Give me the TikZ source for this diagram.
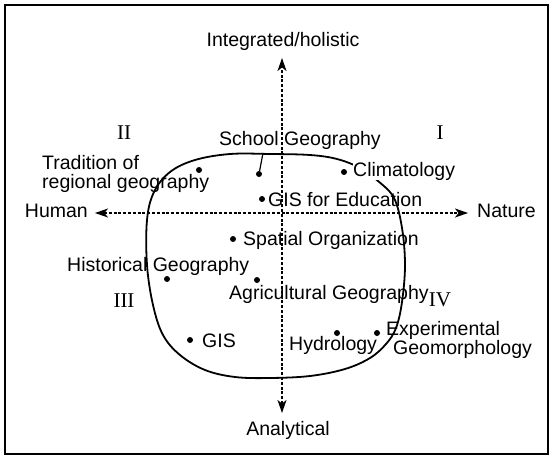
\documentclass[tikz,border=0pt]{standalone}
\usepackage{fontspec}
\setmainfont{Liberation Sans}
\newfontfamily\numfont{Liberation Serif}
\usetikzlibrary{arrows.meta}
\begin{document}
\begin{tikzpicture}[x=1pt,y=-1pt,
  lbl/.style={font=\fontsize{19.5}{17.5}\selectfont, inner sep=0pt, anchor=base west},
  clbl/.style={font=\fontsize{19.5}{17.5}\selectfont, inner sep=0pt, anchor=base},
  num/.style={font=\numfont\fontsize{21}{21}\selectfont, inner sep=0pt},
  dot/.style={circle, fill=black, inner sep=0pt, minimum size=6pt},
  tip/.tip={Stealth[length=13pt,width=9pt,inset=3.5pt]},
  axisline/.style={line width=1.3pt, dash pattern=on 3pt off 1.8pt, tip-tip},
  region/.style={line width=1.8pt},
  leader/.style={line width=1.2pt},
  frame/.style={line width=1.8pt}]
\useasboundingbox (0,0) rectangle (553,457);
\draw[frame] (5,5) rectangle (548,454);

% closed region
\draw[region] plot[smooth cycle, tension=0.6] coordinates {
 (230,154) (270,154) (310,155) (337,159) (360,168) (378,181) (394,198)
 (402,228) (405,265) (402,302) (396,328) (386,344) (370,358) (345,369)
 (310,376) (270,378) (235,377) (205,370) (180,355) (163,335) (153,305)
 (147,265) (147,220) (154,192) (170,172) (195,160)};

% axes
\coordinate (vtop) at (282,58);
\coordinate (vbot) at (282,413);
\coordinate (hleft) at (95,213);
\coordinate (hright) at (468,213);
\draw[axisline] (vbot) -- (vtop);
\draw[axisline] (hleft) -- (hright);

% axis labels
\node[clbl] (integ) at (283,47) {Integrated/holistic};
\node[clbl] (analyt) at (288,435) {Analytical};
\node[font=\fontsize{19.5}{17.5}\selectfont, inner sep=0pt, anchor=base east] (human) at (88,217) {Human};
\node[lbl] (nature) at (477,217) {Nature};

% quadrant numbers
\node[num] (q1) at (440,133) {I};
\node[num] (q2) at (124,133) {II};
\node[num] (q3) at (124,301) {III};
\node[num] (q4) at (440,300) {IV};

% dots
\node[dot] (dtrad) at (199,170) {};
\node[dot] (dschool) at (259,174) {};
\node[dot] (dclim) at (344,172) {};
\node[dot] (dgised) at (262,199) {};
\node[dot] (dspat) at (233,239) {};
\node[dot] (dhist) at (167,279) {};
\node[dot] (dagri) at (257,280) {};
\node[dot] (dgis) at (190,340) {};
\node[dot] (dhydro) at (337,333) {};
\node[dot] (dexp) at (377,333) {};

% labels
\node[lbl] (school) at (219,146) {School Geography};
\coordinate (schoolend) at (263,153);
\draw[leader] (dschool) -- (schoolend);
\node[lbl] (trad1) at (42,169) {Tradition of};
\node[lbl] (trad2) at (42,188) {regional geography};
\node[lbl, fill=white] (clim) at (353,176) {Climatology};
\node[lbl] (gised) at (268,206) {GIS for Education};
\node[lbl] (spat) at (243,245) {Spatial Organization};
\node[lbl] (hist) at (67,271) {Historical Geography};
\node[lbl] (agri) at (229,299) {Agricultural Geography};
\node[lbl] (gis) at (202,347) {GIS};
\node[lbl] (hydro) at (289,350) {Hydrology};
\node[lbl] (exp1) at (386,335) {Experimental};
\node[lbl] (exp2) at (393,354) {Geomorphology};
\end{tikzpicture}
\end{document}
